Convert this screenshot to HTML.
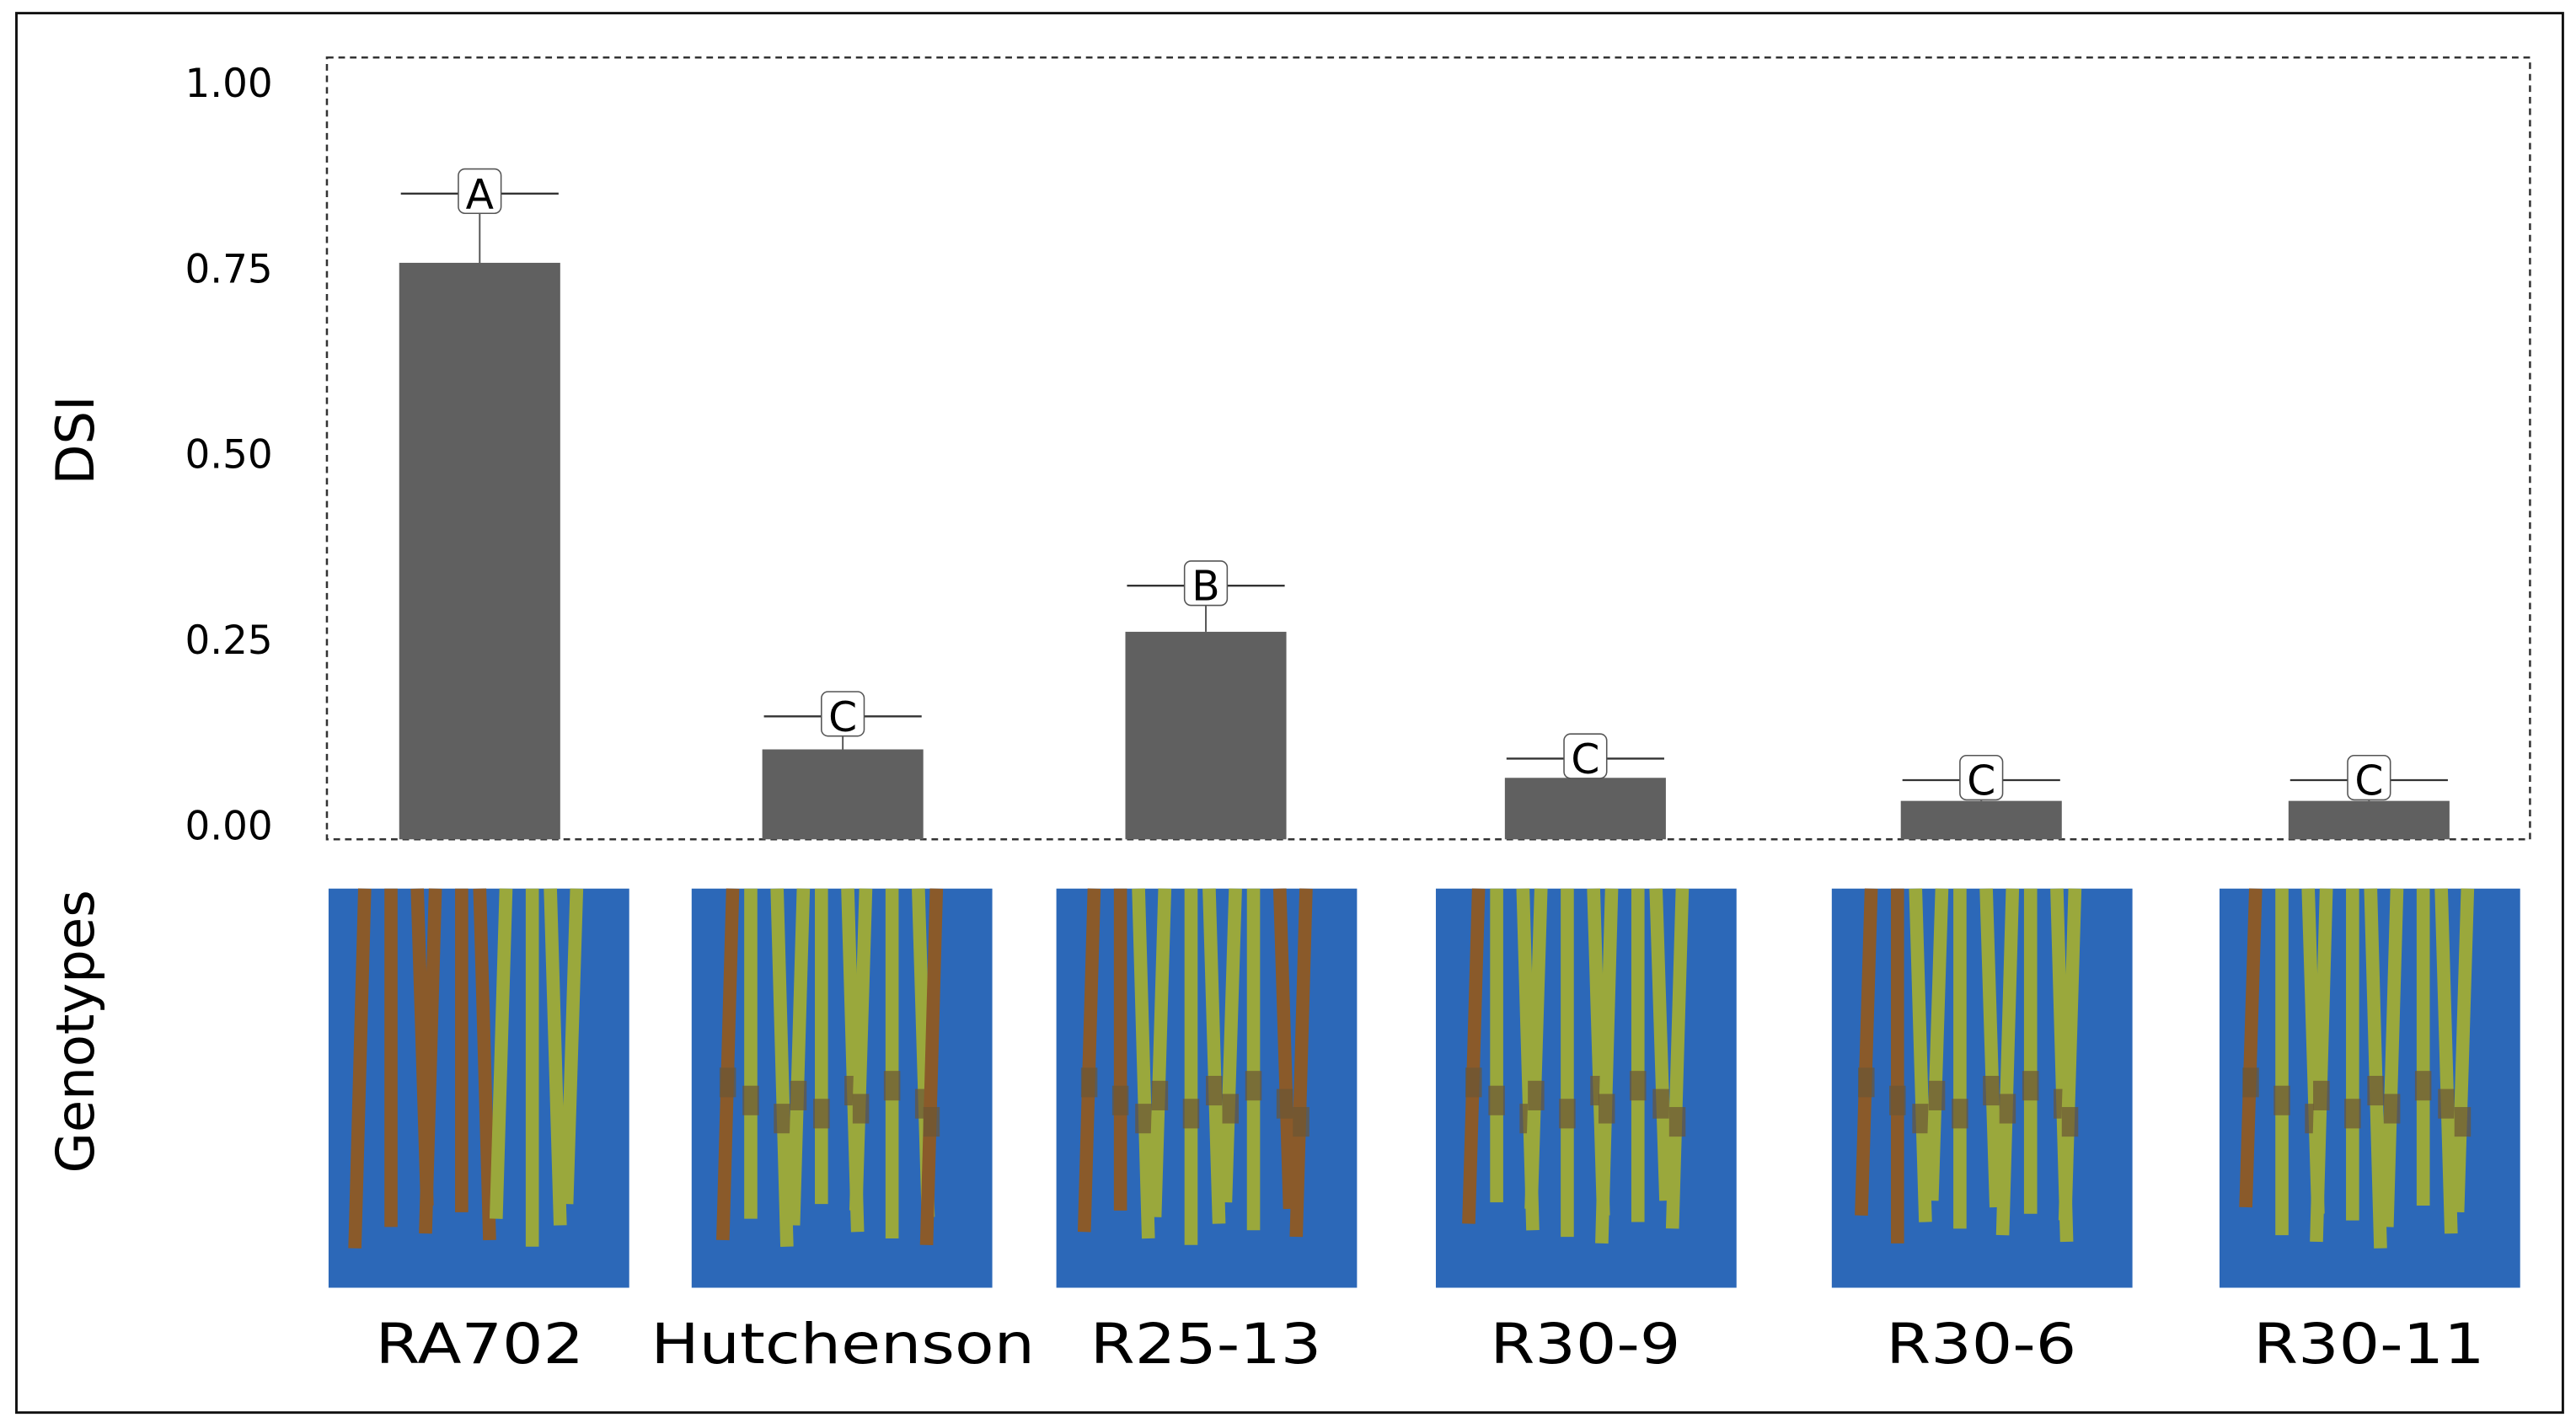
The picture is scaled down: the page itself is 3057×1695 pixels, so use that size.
<!DOCTYPE html>
<html><head><meta charset="utf-8"><style>
html,body{margin:0;padding:0;background:#fff;}
svg{display:block;}
text{font-family:"DejaVu Sans","Liberation Sans",sans-serif;}
</style></head><body>
<svg id="chart" width="3057" height="1695" viewBox="0 0 1568 869.4" xmlns="http://www.w3.org/2000/svg">
<rect x="10" y="8" width="1550" height="852" fill="#fff" stroke="#111" stroke-width="1.5"/>
<rect x="199" y="35" width="1341" height="476" fill="none" stroke="#333" stroke-width="1.3" stroke-dasharray="4,3"/>
<text transform="translate(57,268) rotate(-90)" text-anchor="middle" font-size="32">DSI</text>
<text transform="translate(57,628) rotate(-90)" text-anchor="middle" font-size="32">Genotypes</text>
<g id="ticks"></g>
<g id="bars"></g>
<g id="photos"></g>
</svg>
<script>
const categories = ["RA702","Hutchenson","R25-13","R30-9","R30-6","R30-11"];
const values = [0.75,0.117,0.27,0.08,0.05,0.05];
const errTops = [0.84,0.16,0.33,0.105,0.077,0.077];
const letters = ["A","C","B","C","C","C"];
const tickValues = [0,0.25,0.5,0.75,1];
const tickLabels = ["0.00","0.25","0.50","0.75","1.00"];
const stemBrown = [6,1,2,1,2,1];

const NS="http://www.w3.org/2000/svg";
const centers=[292,513,734,965,1206,1442];
const y0=511, unit=468;
function yScale(v){return y0-v*unit;}
function tickY(v){return 502-v*452;}
function mk(tag,attrs,parent){const e=document.createElementNS(NS,tag);for(const k in attrs)e.setAttribute(k,attrs[k]);parent.appendChild(e);return e;}
const tg=document.getElementById('ticks');
tickValues.forEach((v,i)=>{
  const t=mk('text',{x:166,y:tickY(v)+9,'text-anchor':'end','font-size':24},tg);
  
  
  t.textContent=tickLabels[i];
});
const bg=document.getElementById('bars');
categories.forEach((c,i)=>{
  const cx=centers[i], w=98;
  const r=mk('rect',{x:cx-w/2,y:yScale(values[i]),width:w,height:y0-yScale(values[i]),fill:'#606060'},bg);
  
  
  const ey=yScale(errTops[i]);
  const l=mk('line',{x1:cx,x2:cx,y1:yScale(values[i]),y2:ey,stroke:'#555','stroke-width':1},bg);
  
  
  const cap=mk('line',{x1:cx-48,x2:cx+48,y1:ey,y2:ey,stroke:'#333','stroke-width':1.2},bg);
  
  
  const box=mk('rect',{x:cx-13,y:ey-15,width:26,height:27,rx:4,fill:'#fff',stroke:'#555','stroke-width':0.8},bg);
  
  
  const t=mk('text',{x:cx,y:ey+9,'text-anchor':'middle','font-size':25},bg);
  
  
  t.textContent=letters[i];
});
const pg=document.getElementById('photos');
const px=[200,421,643,874,1115,1351];
categories.forEach((c,i)=>{
  const g=mk('g',{},pg);
  
  
  mk('rect',{x:px[i],y:541,width:183,height:243,fill:'#2c68b8'},g);
  for(let k=0;k<10;k++){
    const sx=px[i]+22+k*14+((k*7+i*3)%5);
    const brown=k<stemBrown[i]||(i===1&&k===9)||(i===2&&k>=8);
    const col=brown?'#8a5a2a':'#9aa83c';
    const bot=760-((k*13+i*5)%30);
    mk('line',{x1:sx,y1:541,x2:sx+((k%3)-1)*6,y2:bot,stroke:col,'stroke-width':8},g);
    if(i>0) mk('rect',{x:sx-5+((k%3)-1)*3,y:650+((k*11)%25),width:10,height:18,fill:'#6b5535',opacity:0.7},g);
  }
  const t=mk('text',{transform:'translate('+centers[i]+',830) scale(1.15,1)','text-anchor':'middle','font-size':34},pg);
  
  
  t.textContent=c;
});
</script>
</body></html>
